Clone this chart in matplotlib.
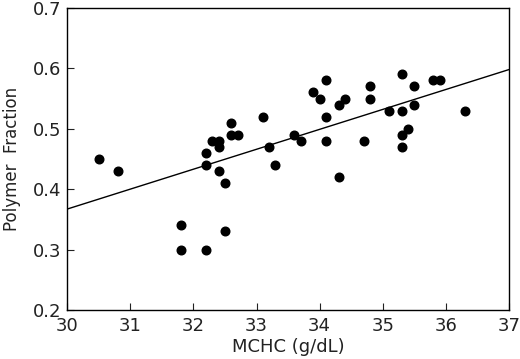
import matplotlib
matplotlib.use("Agg")
import matplotlib.pyplot as plt

mchc = [30.5, 30.8, 31.8, 31.8, 32.2, 32.2, 32.2, 32.3, 32.4, 32.4, 32.4, 32.5, 32.5,
        32.6, 32.6, 32.7, 33.1, 33.2, 33.3, 33.6, 33.7, 33.9, 34.0, 34.1, 34.1, 34.1,
        34.3, 34.3, 34.4, 34.7, 34.8, 34.8, 35.1, 35.3, 35.3, 35.3, 35.3, 35.4, 35.5,
        35.5, 35.8, 35.9, 36.3]
polymer = [0.45, 0.43, 0.34, 0.30, 0.46, 0.44, 0.30, 0.48, 0.48, 0.47, 0.43, 0.41, 0.33,
           0.51, 0.49, 0.49, 0.52, 0.47, 0.44, 0.49, 0.48, 0.56, 0.55, 0.58, 0.52, 0.48,
           0.54, 0.42, 0.55, 0.48, 0.57, 0.55, 0.53, 0.59, 0.53, 0.49, 0.47, 0.50, 0.57,
           0.54, 0.58, 0.58, 0.53]
fit_x = [30, 37]
fit_y = [0.367, 0.598]

xticks = [30, 31, 32, 33, 34, 35, 36, 37]
yticks = [0.2, 0.3, 0.4, 0.5, 0.6, 0.7]

plt.rcParams['font.family'] = ['DejaVu Sans']
fig = plt.figure(figsize=(5.2, 3.59), dpi=100)
ax = fig.add_axes([0.129, 0.1365, 0.850, 0.8415])
ax.plot(fit_x, fit_y, color='black', lw=1.0)
ax.plot(mchc, polymer, 'o', color='black', ms=6.2, mec='black')
ax.set_xlim(30, 37)
ax.set_ylim(0.2, 0.7)
ax.set_xticks(xticks)
ax.set_xticklabels([str(t) for t in xticks])
ax.set_yticks(yticks)
ax.set_yticklabels([f"{t:.1f}" for t in yticks])
ax.tick_params(direction='in', length=5, width=0.8, labelsize=13, colors='#222222', pad=5)
ax.tick_params(axis='y', pad=4)
for s in ax.spines.values():
    s.set_linewidth(1.0)
ax.set_xlabel('MCHC (g/dL)', fontsize=13, color='#222222', labelpad=2)
ax.set_ylabel('Polymer  Fraction', fontsize=12, color='#222222')
ax.yaxis.set_label_coords(-0.105, 0.5)
fig.savefig('out.png', dpi=100, facecolor='white')
